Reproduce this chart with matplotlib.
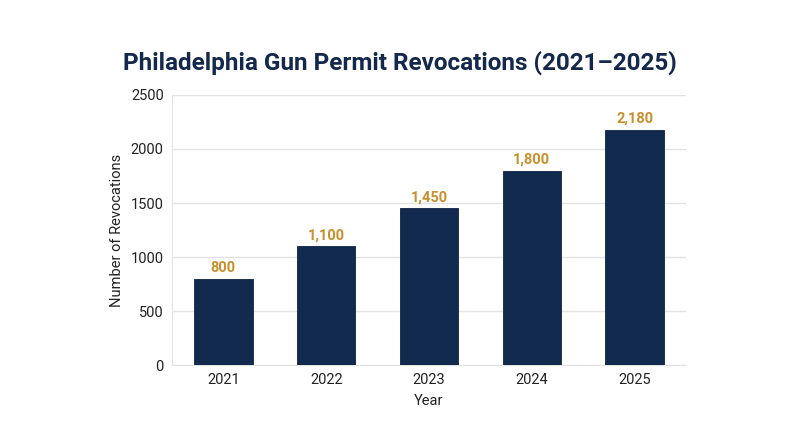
import matplotlib
matplotlib.use("Agg")
import matplotlib.pyplot as plt

years = ["2021", "2022", "2023", "2024", "2025"]
revocations = [800, 1100, 1450, 1800, 2180]
value_labels = ["800", "1,100", "1,450", "1,800", "2,180"]

plt.rcParams['font.family'] = ['Roboto', 'DejaVu Sans']

fig = plt.figure(figsize=(8, 4.47), dpi=100)
ax = fig.add_axes([0.215, 0.1834, 0.6425, 0.6041])

x = range(len(years))
bars = ax.bar(x, revocations, width=0.57, color="#132a4f", edgecolor="#0f2245", linewidth=0.6, zorder=3)

for b, lab in zip(bars, value_labels):
    ax.text(b.get_x() + b.get_width() / 2, b.get_height() + 35, lab,
            ha="center", va="bottom", fontsize=10.5, fontweight="bold", color="#c8902b")

ax.set_xlim(-0.5, len(years) - 0.5)
ax.set_ylim(0, 2500)
ax.set_yticks([0, 500, 1000, 1500, 2000, 2500])
ax.set_xticks(list(x))
ax.set_xticklabels(years)
ax.tick_params(axis="both", length=0, labelsize=10.5, colors="#222222", pad=6)
ax.grid(axis="y", color="#e3e3e3", linewidth=1, zorder=0)

for side in ["top", "right"]:
    ax.spines[side].set_visible(False)
ax.spines["left"].set_color("#e3e3e3")
ax.spines["bottom"].set_color("#e3e3e3")

ax.set_xlabel("Year", fontsize=10.5, color="#222222", labelpad=5)
ax.set_ylabel("Number of Revocations", fontsize=10.5, color="#222222", labelpad=5)

fig.text(0.5, 0.859, "Philadelphia Gun Permit Revocations (2021\u20132025)",
         ha="center", va="center", fontsize=17.5, fontweight="bold", color="#13284a")

fig.savefig("out.png", dpi=100, facecolor="white")
